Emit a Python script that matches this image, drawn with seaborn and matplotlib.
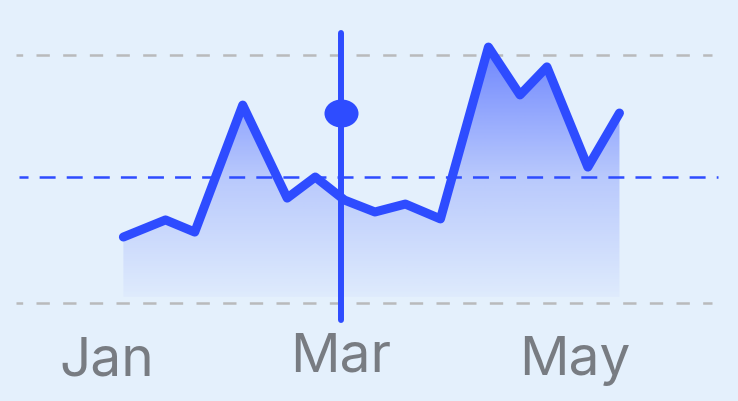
import numpy as np
import pandas as pd
import seaborn as sns
import matplotlib.pyplot as plt
from matplotlib.path import Path
from matplotlib.transforms import Affine2D, ScaledTranslation

# Data (x in months, Jan = 0)
month_pos = [0.14, 0.50, 0.75, 1.16, 1.54, 1.78, 2.03, 2.29, 2.55, 2.85, 3.26, 3.53, 3.76, 4.11, 4.38]
values = [26.6, 33.5, 28.6, 79.8, 42.3, 50.8, 41.5, 36.7, 39.9, 33.9, 103.2, 83.9, 95.2, 54.8, 76.6]
tick_pos = [0, 2, 4]
tick_labels = ['Jan', 'Mar', 'May']
grid_values = [0, 100]
avg_value = 50.8
cursor_x = 2.0
cursor_value = 76.6
cursor_span = [-7, 109]

df = pd.DataFrame({'month': month_pos, 'value': values})

BG = '#E4F0FC'
BLUE = '#2E4CFF'
GRAY = '#B9BABC'
TXT = '#787C82'

sns.set_style('white', {'axes.facecolor': BG, 'figure.facecolor': BG})
plt.rcParams['font.family'] = ['Inter', 'DejaVu Sans']
plt.rcParams['lines.scale_dashes'] = False

fig = plt.figure(figsize=(7.38, 4.01), dpi=100)
ax = fig.add_axes([0, 83 / 401, 1, 318 / 401])
ax.set_xlim(-107 / 117, 631 / 117)
ax.set_ylim(-15 / 2.48, 303 / 2.48)

# gradient area under the line
floor = 2.4
top = max(values)
fill = ax.fill_between(df['month'], df['value'], floor, facecolor='none', edgecolor='none')
yy = np.linspace(top, floor, 300)
alpha = np.interp(yy, [floor, 5.2, 50.8, top], [0.03, 0.045, 0.24, 0.65])
grad = np.zeros((300, 1, 4))
grad[:, 0, :3] = [0x2E / 255, 0x4C / 255, 1.0]
grad[:, 0, 3] = alpha
im = ax.imshow(grad, extent=[month_pos[0], month_pos[-1], floor, top], aspect='auto',
               origin='upper', zorder=1)
im.set_clip_path(fill.get_paths()[0], transform=ax.transData)

# reference lines
for g in grid_values:
    ax.axhline(g, xmin=16 / 738, xmax=712 / 738, color=GRAY, lw=1.8,
               ls=(4.8, (9.6, 9.6)), zorder=2)
ax.axhline(avg_value, xmin=19 / 738, xmax=718 / 738, color=BLUE, lw=1.8,
           ls=(5, (11.5, 8)), zorder=2)

sns.lineplot(data=df, x='month', y='value', ax=ax, color=BLUE, linewidth=6.5,
             solid_joinstyle='round', solid_capstyle='round', zorder=3)

# cursor
ax.plot([cursor_x, cursor_x], cursor_span, color=BLUE, lw=4.3,
        solid_capstyle='round', clip_on=False, zorder=4)
oval = Path.unit_circle().transformed(Affine2D().scale(1, 28 / 34))
ax.plot([cursor_x], [cursor_value], marker=oval, markersize=24.5, color=BLUE,
        markeredgewidth=0, clip_on=False, zorder=5)

ax.set_xticks(tick_pos)
ax.set_xticklabels(tick_labels, fontsize=39.5, color=TXT)
ax.set_yticks([])
ax.tick_params(axis='x', length=0, pad=13)
ax.set_xlabel('')
ax.set_ylabel('')
sns.despine(ax=ax, left=True, bottom=True)
ax.grid(False)

lab = ax.get_xticklabels()[1]
lab.set_transform(lab.get_transform() + ScaledTranslation(0, 4 / 100, fig.dpi_scale_trans))

fig.savefig('out.png', dpi=100, facecolor=BG)
